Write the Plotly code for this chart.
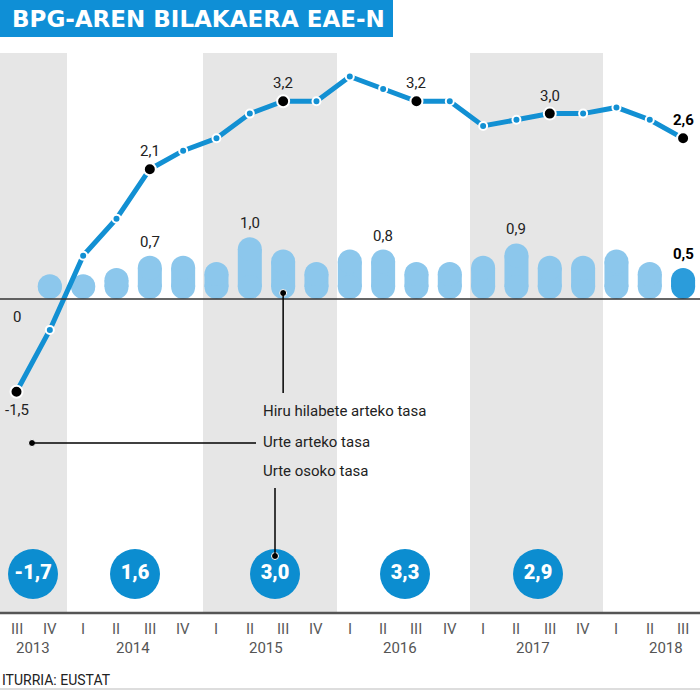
import plotly.graph_objects as go

# ---------------- data ----------------
quarters = ["III", "IV", "I", "II", "III", "IV", "I", "II", "III", "IV",
            "I", "II", "III", "IV", "I", "II", "III", "IV", "I", "II", "III"]
year_labels = ["2013", "2014", "2015", "2016", "2017", "2018"]
year_label_pos = [0.5, 3.5, 7.5, 11.5, 15.5, 19.5]

# Urte arteko tasa (year-on-year rate)
annual_rate = [-1.5, -0.5, 0.7, 1.3, 2.1, 2.4, 2.6, 3.0, 3.2, 3.2,
               3.6, 3.4, 3.2, 3.2, 2.8, 2.9, 3.0, 3.0, 3.1, 2.9, 2.6]
# Hiru hilabete arteko tasa (quarter-on-quarter rate)
quarterly_rate = [0.0, 0.4, 0.4, 0.5, 0.7, 0.7, 0.6, 1.0, 0.8, 0.6,
                  0.8, 0.8, 0.6, 0.6, 0.7, 0.9, 0.7, 0.7, 0.8, 0.6, 0.5]
# Urte osoko tasa (full-year rate)
full_years = ["2013", "2014", "2015", "2016", "2017"]
full_year_rate = [-1.7, 1.6, 3.0, 3.3, 2.9]

line_labelled = [0, 4, 8, 12, 16, 20]
bar_labelled = [0, 4, 7, 11, 15, 20]

# ---------------- layout helpers ----------------
W, H = 700, 690
ZERO_PX, PPU = 299.0, 61.8      # pixel row of zero, pixels per unit
X0_PX, STEP = 16.5, 33.33       # pixel column of first quarter, pixels per quarter


def Y(py):
    return (ZERO_PX - py) / PPU


def X(px):
    return (px - X0_PX) / STEP


def fmt(v):
    return "0" if v == 0 else f"{v:.1f}".replace(".", ",")


BLUE = "#1290d3"
BAR = "#8cc7ec"
BAR_LAST = "#2b9cdb"
CIRCLE = "#0c8dd0"
GREY_BAND = "#e6e6e6"
TXT = "#222222"
FONT = "Roboto"

fig = go.Figure()

# ---------------- pill bars ----------------
r = 12 / PPU
bx, by = [], []
for i, v in enumerate(quarterly_rate[:-1]):
    if v <= 0:
        continue
    lo, hi = r, max(v - r, r)
    bx += [i, i, None]
    by += [lo, hi, None]
fig.add_trace(go.Scatter(x=bx, y=by, mode="lines+markers",
                         line=dict(color=BAR, width=24),
                         marker=dict(color=BAR, size=24),
                         hoverinfo="skip", showlegend=False))
last_i = len(quarterly_rate) - 1
lv = quarterly_rate[-1]
fig.add_trace(go.Scatter(x=[last_i, last_i], y=[r, max(lv - r, r)], mode="lines+markers",
                         line=dict(color=BAR_LAST, width=24),
                         marker=dict(color=BAR_LAST, size=24),
                         hoverinfo="skip", showlegend=False))

# ---------------- annual line ----------------
qx = list(range(len(quarters)))
fig.add_trace(go.Scatter(x=qx, y=annual_rate, mode="lines+markers",
                         line=dict(color=BLUE, width=5),
                         marker=dict(color=BLUE, size=8, line=dict(color="white", width=2)),
                         hoverinfo="skip", showlegend=False))
fig.add_trace(go.Scatter(x=[qx[i] for i in line_labelled],
                         y=[annual_rate[i] for i in line_labelled],
                         mode="markers",
                         marker=dict(color="black", size=12, line=dict(color="white", width=2)),
                         hoverinfo="skip", showlegend=False))

# ---------------- full-year circles ----------------
circle_pos = [X(33), X(135), X(275), X(405), X(538)]
fig.add_trace(go.Scatter(x=circle_pos, y=[Y(574)] * len(full_year_rate),
                         mode="markers+text",
                         marker=dict(color=CIRCLE, size=50),
                         text=[fmt(v) for v in full_year_rate],
                         textposition="middle center",
                         textfont=dict(family=FONT, size=20, color="white", weight=900),
                         hoverinfo="skip", showlegend=False))

# connector dots
fig.add_trace(go.Scatter(x=[8, X(32), X(275)], y=[Y(293), Y(443), Y(556)],
                         mode="markers",
                         marker=dict(color="black", size=7, line=dict(color="white", width=1)),
                         hoverinfo="skip", showlegend=False))

shapes = []
# grey year bands
for a, b in [(X(-5), X(67)), (X(203), X(337)), (X(470), X(603))]:
    shapes.append(dict(type="rect", xref="x", yref="y", x0=a, x1=b, y0=Y(613), y1=Y(53),
                       fillcolor=GREY_BAND, line=dict(width=0), layer="below"))
# zero line
shapes.append(dict(type="line", xref="paper", yref="y", x0=0, x1=1, y0=0, y1=0,
                   line=dict(color="#333333", width=1.5), layer="above"))
# axis line at bottom
shapes.append(dict(type="line", xref="paper", yref="y", x0=0, x1=1, y0=Y(613), y1=Y(613),
                   line=dict(color="#555555", width=2.5)))
# bottom frame line
shapes.append(dict(type="line", xref="paper", yref="y", x0=0, x1=1, y0=Y(689), y1=Y(689),
                   line=dict(color="#bbbbbb", width=1)))
# connectors
shapes.append(dict(type="line", xref="x", yref="y", x0=8, x1=8, y0=Y(293), y1=Y(393),
                   line=dict(color="black", width=1.5)))
shapes.append(dict(type="line", xref="x", yref="y", x0=X(32), x1=X(256), y0=Y(443), y1=Y(443),
                   line=dict(color="black", width=1.5)))
shapes.append(dict(type="line", xref="x", yref="y", x0=X(275), x1=X(275), y0=Y(488), y1=Y(556),
                   line=dict(color="black", width=1.5)))
# title box
shapes.append(dict(type="rect", xref="paper", yref="paper", x0=0, x1=393 / W,
                   y0=1 - 37 / H, y1=1, fillcolor="#0f8fd6", line=dict(width=0)))

ann = []
ann.append(dict(x=10 / W, y=1 - 19 / H, xref="paper", yref="paper", xanchor="left",
                yanchor="middle", showarrow=False, text="BPG-AREN BILAKAERA EAE-N",
                font=dict(family="DejaVu Sans", size=23, color="white", weight=700)))

# line labels
for i in line_labelled:
    last = i == line_labelled[-1]
    below = annual_rate[i] < 0
    ann.append(dict(x=qx[i], y=annual_rate[i], xref="x", yref="y", showarrow=False,
                    text=fmt(annual_rate[i]), yshift=-18 if below else 18,
                    font=dict(family=FONT, size=15, color="black" if last else TXT,
                              weight=700 if last else 400)))
# bar labels
for i in bar_labelled:
    last = i == bar_labelled[-1]
    v = quarterly_rate[i]
    ann.append(dict(x=qx[i], y=v, xref="x", yref="y", showarrow=False,
                    text=fmt(v), yshift=14 if v > 0 else -18,
                    font=dict(family=FONT, size=15, color="black" if last else TXT,
                              weight=700 if last else 400)))

# legend texts
for txt, py in [("Hiru hilabete arteko tasa", 411), ("Urte arteko tasa", 442),
                ("Urte osoko tasa", 471)]:
    ann.append(dict(x=X(261), y=Y(py), xref="x", yref="y", xanchor="left", showarrow=False,
                    text=txt, font=dict(family=FONT, size=15, color=TXT)))

# quarter and year labels
for i, q in enumerate(quarters):
    ann.append(dict(x=i, y=Y(629), xref="x", yref="y", showarrow=False, text=q,
                    font=dict(family=FONT, size=15, color="#5a5a5a")))
for yl, yp in zip(year_labels, year_label_pos):
    ann.append(dict(x=yp, y=Y(648), xref="x", yref="y", showarrow=False, text=yl,
                    font=dict(family=FONT, size=15, color="#555555")))

ann.append(dict(x=0, y=Y(680), xref="paper", yref="y", xanchor="left", showarrow=False,
                text="ITURRIA: EUSTAT", font=dict(family=FONT, size=14, color=TXT)))

fig.update_layout(
    width=W, height=H, margin=dict(l=0, r=0, t=0, b=0),
    paper_bgcolor="white", plot_bgcolor="white",
    xaxis=dict(range=[X(0), X(W)], visible=False, fixedrange=True),
    yaxis=dict(range=[Y(H), Y(0)], visible=False, fixedrange=True),
    shapes=shapes, annotations=ann, showlegend=False,
)

fig.write_html("out.html")
